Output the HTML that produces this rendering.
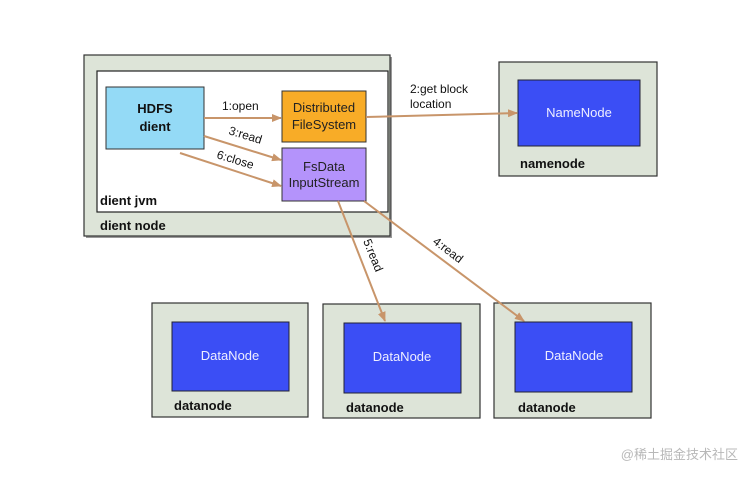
<!DOCTYPE html>
<html><head><style>body{margin:0;background:#fff}svg{display:block}</style></head><body>
<svg width="752" height="478" viewBox="0 0 752 478" xmlns="http://www.w3.org/2000/svg" font-family="Liberation Sans, sans-serif">
<defs><marker id="a" markerWidth="10" markerHeight="8" refX="9" refY="4" orient="auto" markerUnits="userSpaceOnUse"><path d="M0,0 L10,4 L0,8 Z" fill="#c8956a"/></marker></defs>
<rect width="752" height="478" fill="#fff"/>
<rect x="86" y="57" width="306" height="181" fill="#999"/>
<rect x="84" y="55" width="306" height="181" fill="#dde4d8" stroke="#333" stroke-width="1.2"/>
<rect x="97" y="71" width="291" height="141" fill="#fff" stroke="#222" stroke-width="1.2"/>
<rect x="106" y="87" width="98" height="62" fill="#94daf6" stroke="#333"/>
<text x="155" y="113" text-anchor="middle" font-size="13" font-weight="bold" fill="#111">HDFS</text>
<text x="155" y="131" text-anchor="middle" font-size="13" font-weight="bold" fill="#111">dient</text>
<rect x="282" y="91" width="84" height="51" fill="#f8ac27" stroke="#333"/>
<text x="324" y="112" text-anchor="middle" font-size="13" fill="#222">Distributed</text>
<text x="324" y="129" text-anchor="middle" font-size="13" fill="#222">FileSystem</text>
<rect x="282" y="148" width="84" height="53" fill="#b493fb" stroke="#333"/>
<text x="324" y="171" text-anchor="middle" font-size="13" fill="#222">FsData</text>
<text x="324" y="187" text-anchor="middle" font-size="13" fill="#222">InputStream</text>
<text x="100" y="205" font-size="13" font-weight="bold" fill="#111">dient jvm</text>
<text x="100" y="230" font-size="13" font-weight="bold" fill="#111">dient node</text>
<rect x="499" y="62" width="158" height="114" fill="#dde4d8" stroke="#333" stroke-width="1.2"/>
<rect x="518" y="80" width="122" height="66" fill="#3b4ef5" stroke="#223"/>
<text x="579" y="117" text-anchor="middle" font-size="13" fill="#eef">NameNode</text>
<text x="520" y="168" font-size="13" font-weight="bold" fill="#111">namenode</text>
<rect x="152" y="303" width="156" height="114" fill="#dde4d8" stroke="#333" stroke-width="1.2"/>
<rect x="172" y="322" width="117" height="69" fill="#3b4ef5" stroke="#223"/>
<text x="230" y="360" text-anchor="middle" font-size="13" fill="#eef">DataNode</text>
<text x="174" y="410" font-size="13" font-weight="bold" fill="#111">datanode</text>
<rect x="323" y="304" width="157" height="114" fill="#dde4d8" stroke="#333" stroke-width="1.2"/>
<rect x="344" y="323" width="117" height="70" fill="#3b4ef5" stroke="#223"/>
<text x="402" y="361" text-anchor="middle" font-size="13" fill="#eef">DataNode</text>
<text x="346" y="412" font-size="13" font-weight="bold" fill="#111">datanode</text>
<rect x="494" y="303" width="157" height="115" fill="#dde4d8" stroke="#333" stroke-width="1.2"/>
<rect x="515" y="322" width="117" height="70" fill="#3b4ef5" stroke="#223"/>
<text x="574" y="360" text-anchor="middle" font-size="13" fill="#eef">DataNode</text>
<text x="518" y="412" font-size="13" font-weight="bold" fill="#111">datanode</text>
<g stroke="#c8956a" stroke-width="2" fill="none" marker-end="url(#a)">
<line x1="204" y1="118" x2="281" y2="118"/>
<line x1="366" y1="117" x2="517" y2="113"/>
<line x1="204" y1="136" x2="281" y2="160"/>
<line x1="180" y1="153" x2="281" y2="186"/>
<line x1="338" y1="201" x2="385" y2="321"/>
<line x1="364" y1="201" x2="524" y2="321"/>
</g>
<g font-size="12" fill="#111">
<text x="222" y="110">1:open</text>
<text x="410" y="93">2:get block</text>
<text x="410" y="108">location</text>
<text x="228" y="134" transform="rotate(17 228 134)">3:read</text>
<text x="216" y="158" transform="rotate(17 216 158)">6:close</text>
<text x="363" y="241" transform="rotate(68 363 241)">5:read</text>
<text x="432" y="243" transform="rotate(37 432 243)">4:read</text>
</g>
<text x="738" y="459" text-anchor="end" font-size="13" fill="#b8b8b8" font-family="Liberation Sans, Noto Sans CJK SC, sans-serif">@稀土掘金技术社区</text>
</svg>
</body></html>
